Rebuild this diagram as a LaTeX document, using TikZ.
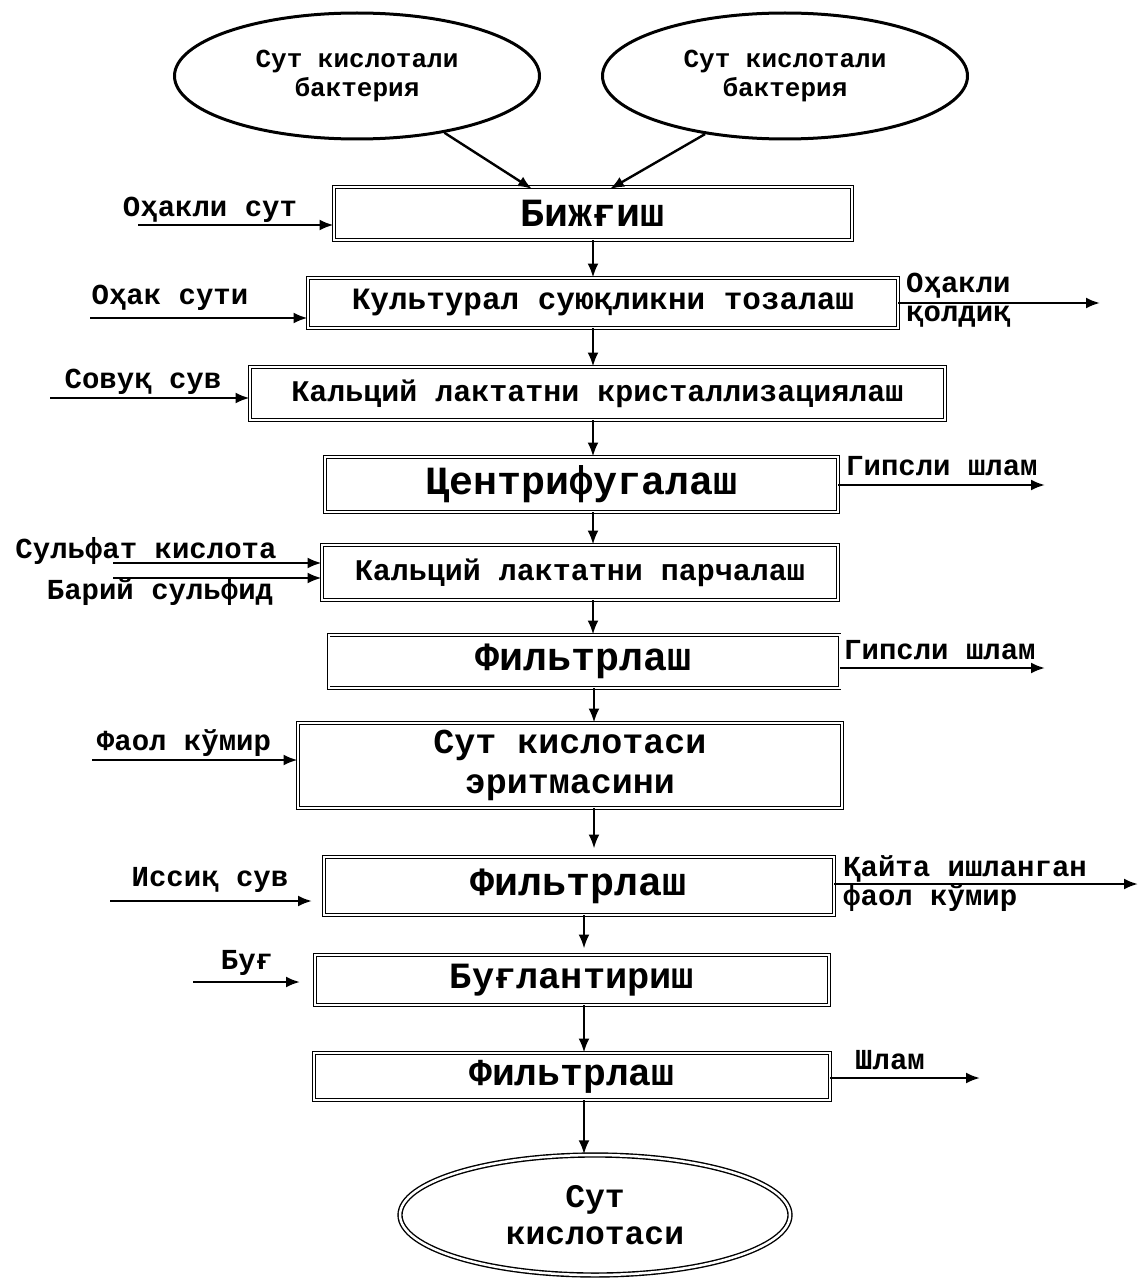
\documentclass[tikz,border=0pt]{standalone}
\usepackage{fontspec}
\setmainfont{Liberation Mono}
\usetikzlibrary{arrows.meta,shapes.geometric,calc}
\begin{document}
\begin{tikzpicture}[x=1pt,y=-1pt,
  every node/.style={font=\bfseries},
  box/.style={draw,double,double distance=2pt,line width=0.9pt,inner sep=0pt,align=center},
  lbl/.style={inner sep=0pt,font=\fontsize{29}{31}\selectfont\bfseries,anchor=center},
  rlbl/.style={inner sep=0pt,font=\fontsize{29}{29}\selectfont\bfseries,anchor=west,align=left},
  arr/.style={line width=2.4pt,-{Latex[length=14pt,width=11pt]}},
  src/.style={draw,ellipse,line width=3pt,inner sep=0pt,align=center,font=\fontsize{26}{29}\selectfont\bfseries}
]
\useasboundingbox (0,0) rectangle (1140,1279);

% source ellipses
\node[src,minimum width=365pt,minimum height=126pt] (e1) at (357,76) {Сут кислотали\\бактерия};
\node[src,minimum width=365pt,minimum height=126pt] (e2) at (785,76) {Сут кислотали\\бактерия};

% process boxes
\node[box,minimum width=518pt,minimum height=53pt,font=\fontsize{40}{40}\selectfont\bfseries] (b1) at (593,213.5) {Бижғиш};
\node[box,minimum width=590pt,minimum height=50pt,font=\fontsize{31}{31}\selectfont\bfseries] (b2) at (603,303) {Культурал суюқликни тозалаш};
\node[box,minimum width=695pt,minimum height=53pt,font=\fontsize{30}{30}\selectfont\bfseries] (b3) at (597.5,393.5) {Кальций лактатни кристаллизациялаш};
\node[box,minimum width=513pt,minimum height=55pt,font=\fontsize{40}{40}\selectfont\bfseries] (b4) at (581.5,484.5) {Центрифугалаш};
\node[box,minimum width=516pt,minimum height=55pt,font=\fontsize{30}{30}\selectfont\bfseries] (b5) at (580,572.5) {Кальций лактатни парчалаш};
\node[box,minimum width=511pt,minimum height=53pt,font=\fontsize{40}{40}\selectfont\bfseries] (b6) at (584,661.5) {Фильтрлаш};
\node[box,minimum width=544pt,minimum height=85pt,font=\fontsize{35}{40}\selectfont\bfseries] (b7) at (570,765.5) {Сут кислотаси\\эритмасини};
\node[box,minimum width=510pt,minimum height=58pt,font=\fontsize{40}{40}\selectfont\bfseries] (b8) at (579,886) {Фильтрлаш};
\node[box,minimum width=514pt,minimum height=50pt,font=\fontsize{37}{37}\selectfont\bfseries] (b9) at (572,980) {Буғлантириш};
\node[box,minimum width=516pt,minimum height=47pt,font=\fontsize{38}{38}\selectfont\bfseries] (b10) at (572,1076.5) {Фильтрлаш};

% product ellipse
\node[draw,ellipse,double,double distance=2.5pt,line width=1.4pt,minimum width=390pt,minimum height=120pt,inner sep=0pt,align=center,font=\fontsize{33}{37}\selectfont\bfseries] (p) at (595,1215) {Сут\\кислотаси};

% arrows from sources
\coordinate (t1) at (532,189);
\coordinate (t2) at (610,189);
\draw[arr] (e1.-33) -- (t1);
\draw[arr] (e2.-144) -- (t2);

% main vertical flow
\draw[arr] (b1.south -| 593,0) -- (b2.north -| 593,0);
\draw[arr] (b2.south -| 593,0) -- (b3.north -| 593,0);
\draw[arr] (b3.south -| 593,0) -- (b4.north -| 593,0);
\draw[arr] (b4.south -| 593,0) -- (b5.north -| 593,0);
\draw[arr] (b5.south -| 593,0) -- (b6.north -| 593,0);
\draw[arr] (b6.south -| 594,0) -- (b7.north -| 594,0);
\draw[arr] (b7.south -| 594,0) -- ($(b8.north -| 594,0)+(0,-8)$);
\draw[arr] (b8.south -| 584,0) -- ($(b9.north -| 584,0)+(0,-6)$);
\draw[arr] (b9.south -| 584,0) -- (b10.north -| 584,0);
\draw[arr] (b10.south -| 584,0) -- (p.north -| 584,0);

% left inputs
\node[lbl] (l1) at (210,210) {Оҳакли сут};
\coordinate (i1) at (138,225);
\draw[arr] (i1) -- (i1 -| b1.west);

\node[lbl] (l2) at (170,298) {Оҳак сути};
\coordinate (i2) at (90,318);
\draw[arr] (i2) -- (i2 -| b2.west);

\node[lbl] (l3) at (143,382) {Совуқ сув};
\coordinate (i3) at (50,398);
\draw[arr] (i3) -- (i3 -| b3.west);

\node[lbl] (l5a) at (146,551) {Сульфат кислота};
\node[lbl] (l5b) at (160,592) {Барий сульфид};
\coordinate (i5a) at (113,563);
\coordinate (i5b) at (113,578);
\draw[arr] (i5a) -- (i5a -| b5.west);
\draw[arr] (i5b) -- (i5b -| b5.west);

\node[lbl] (l7) at (184,743) {Фаол кўмир};
\coordinate (i7) at (92,760);
\draw[arr] (i7) -- (i7 -| b7.west);

\node[lbl] (l8) at (210,880) {Иссиқ сув};
\coordinate (i8) at (110,901);
\coordinate (j8) at (312,901);
\draw[arr] (i8) -- (j8);

\node[lbl] (l9) at (247,963) {Буғ};
\coordinate (i9) at (193,982);
\coordinate (j9) at (300,982);
\draw[arr] (i9) -- (j9);

% right outputs
\node[rlbl] (r2) at (906,300) {Оҳакли\\қолдиқ};
\coordinate (o2) at (1100,303);
\draw[arr] (b2.east |- o2) -- (o2);

\node[rlbl] (r4) at (846,466) {Гипсли шлам};
\coordinate (o4) at (1045,485);
\draw[arr] (b4.east |- o4) -- (o4);

\node[rlbl] (r6) at (844,650) {Гипсли шлам};
\coordinate (o6) at (1045,668);
\draw[arr] (b6.east |- o6) -- (o6);

\node[rlbl] (r8) at (843,884) {Қайта ишланган\\фаол кўмир};
\coordinate (o8) at (1138,884);
\draw[arr] (b8.east |- o8) -- (o8);

\node[rlbl] (r10) at (855,1060) {Шлам};
\coordinate (o10) at (980,1078);
\draw[arr] (b10.east |- o10) -- (o10);
\end{tikzpicture}
\end{document}
